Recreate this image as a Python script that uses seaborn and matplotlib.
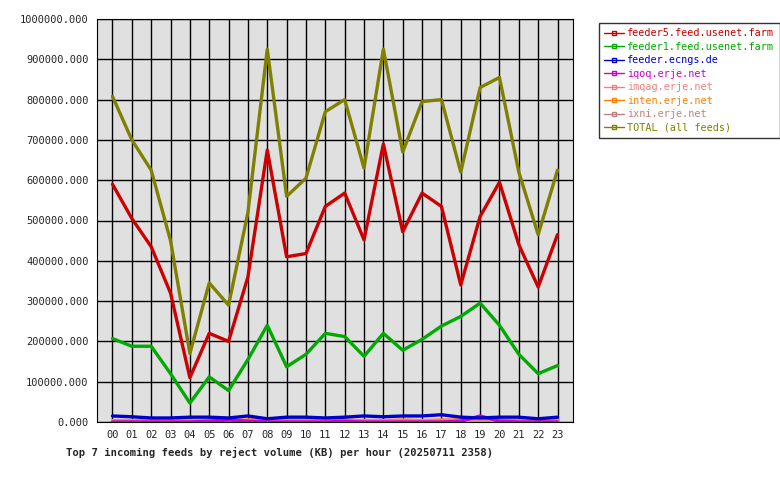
import matplotlib
matplotlib.use("Agg")
import matplotlib.pyplot as plt
import seaborn as sns
import pandas as pd
from matplotlib.lines import Line2D

hours = ["%02d" % h for h in range(24)]
feeds = ["feeder5.feed.usenet.farm", "feeder1.feed.usenet.farm", "feeder.ecngs.de",
         "iqoq.erje.net", "imqag.erje.net", "inten.erje.net", "ixni.erje.net", "TOTAL (all feeds)"]
colors = ["#cc0000", "#00aa00", "#0000cc", "#cc00cc", "#f08080", "#ff8000", "#c08080", "#808000"]

feeder5 = [590, 505, 435, 320, 110, 220, 200, 360, 675, 410, 418, 535,
           568, 452, 690, 472, 568, 535, 340, 510, 595, 440, 335, 465]
feeder1 = [207, 188, 188, 120, 47, 112, 78, 155, 240, 137, 168, 220,
           212, 163, 220, 178, 205, 238, 262, 295, 240, 168, 120, 140]
ecngs = [15, 13, 10, 10, 12, 12, 10, 15, 8, 12, 12, 10,
         12, 15, 13, 15, 15, 18, 12, 10, 12, 12, 8, 12]
iqoq = [0, 0, 0, 0, 0, 2, 5, 2, 0, 0, 0, 0, 2, 0, 0, 0, 0, 0, 2, 15, 2, 0, 0, 0]
imqag = [5, 5, 5, 5, 5, 5, 5, 5, 5, 5, 5, 5, 5, 5, 5, 5, 5, 5, 5, 5, 5, 5, 5, 5]
inten = [3, 3, 3, 3, 3, 3, 3, 5, 8, 3, 3, 5, 5, 3, 3, 5, 3, 5, 5, 3, 3, 3, 3, 5]
ixni = [3, 3, 3, 3, 3, 3, 3, 3, 3, 3, 3, 3, 3, 3, 3, 3, 3, 3, 3, 3, 3, 3, 3, 3]
total = [808, 700, 625, 450, 170, 345, 290, 520, 925, 560, 605, 770,
         800, 630, 925, 670, 795, 800, 620, 830, 855, 620, 465, 625]

series = [feeder5, feeder1, ecngs, iqoq, imqag, inten, ixni, total]
rows = []
for name, vals in zip(feeds, series):
    for h, v in enumerate(vals):
        rows.append({"hour": h, "kb": v * 1000, "feed": name})
df = pd.DataFrame(rows)

sns.set_style("white")
plt.rcParams["font.family"] = ["DejaVu Sans Mono"]
fig = plt.figure(figsize=(7.8, 4.8), dpi=100)
ax = fig.add_axes([97 / 780, 1 - 422 / 480, 476 / 780, 403 / 480])
ax.set_facecolor("#e0e0e0")

# draw smaller series first so TOTAL etc. lie on top like the original
order = [6, 5, 4, 3, 2, 1, 0, 7]
for i in order:
    sub = df[df.feed == feeds[i]]
    sns.lineplot(data=sub, x="hour", y="kb", color=colors[i], lw=2.4, ax=ax, legend=False)

ax.set_xlim(-0.8, 23.8)
ax.set_ylim(0, 1000000)
ax.set_xticks(range(24))
ax.set_xticklabels(hours, fontsize=7.5)
ax.set_yticks(range(0, 1000001, 100000))
ax.set_yticklabels(["%d.000" % v for v in range(0, 1000001, 100000)], fontsize=7.5)
ax.grid(True, color="black", lw=1)
ax.set_axisbelow(True)
for s in ax.spines.values():
    s.set_color("black")
ax.tick_params(length=4, color="black", direction="out", pad=2)
ax.set_xlabel("")
ax.set_ylabel("")

handles = [Line2D([0], [0], color=c, lw=1, marker="s", markersize=2.5,
                  markerfacecolor="none") for c in colors]
leg = fig.legend(handles, feeds, loc="upper left", bbox_to_anchor=(594 / 780, 1 - 18 / 480),
                 frameon=True, fancybox=False, fontsize=7.3, handlelength=2,
                 handletextpad=0.3, borderpad=0.5, labelspacing=0.35, edgecolor="black")
for t, c in zip(leg.get_texts(), colors):
    t.set_color(c)

fig.text(66 / 780, 1 - 452 / 480, "Top 7 incoming feeds by reject volume (KB) per hour (20250711 2358)",
         fontsize=7.6, fontweight="bold", va="center")

fig.savefig("out.png", dpi=100, facecolor="white")
